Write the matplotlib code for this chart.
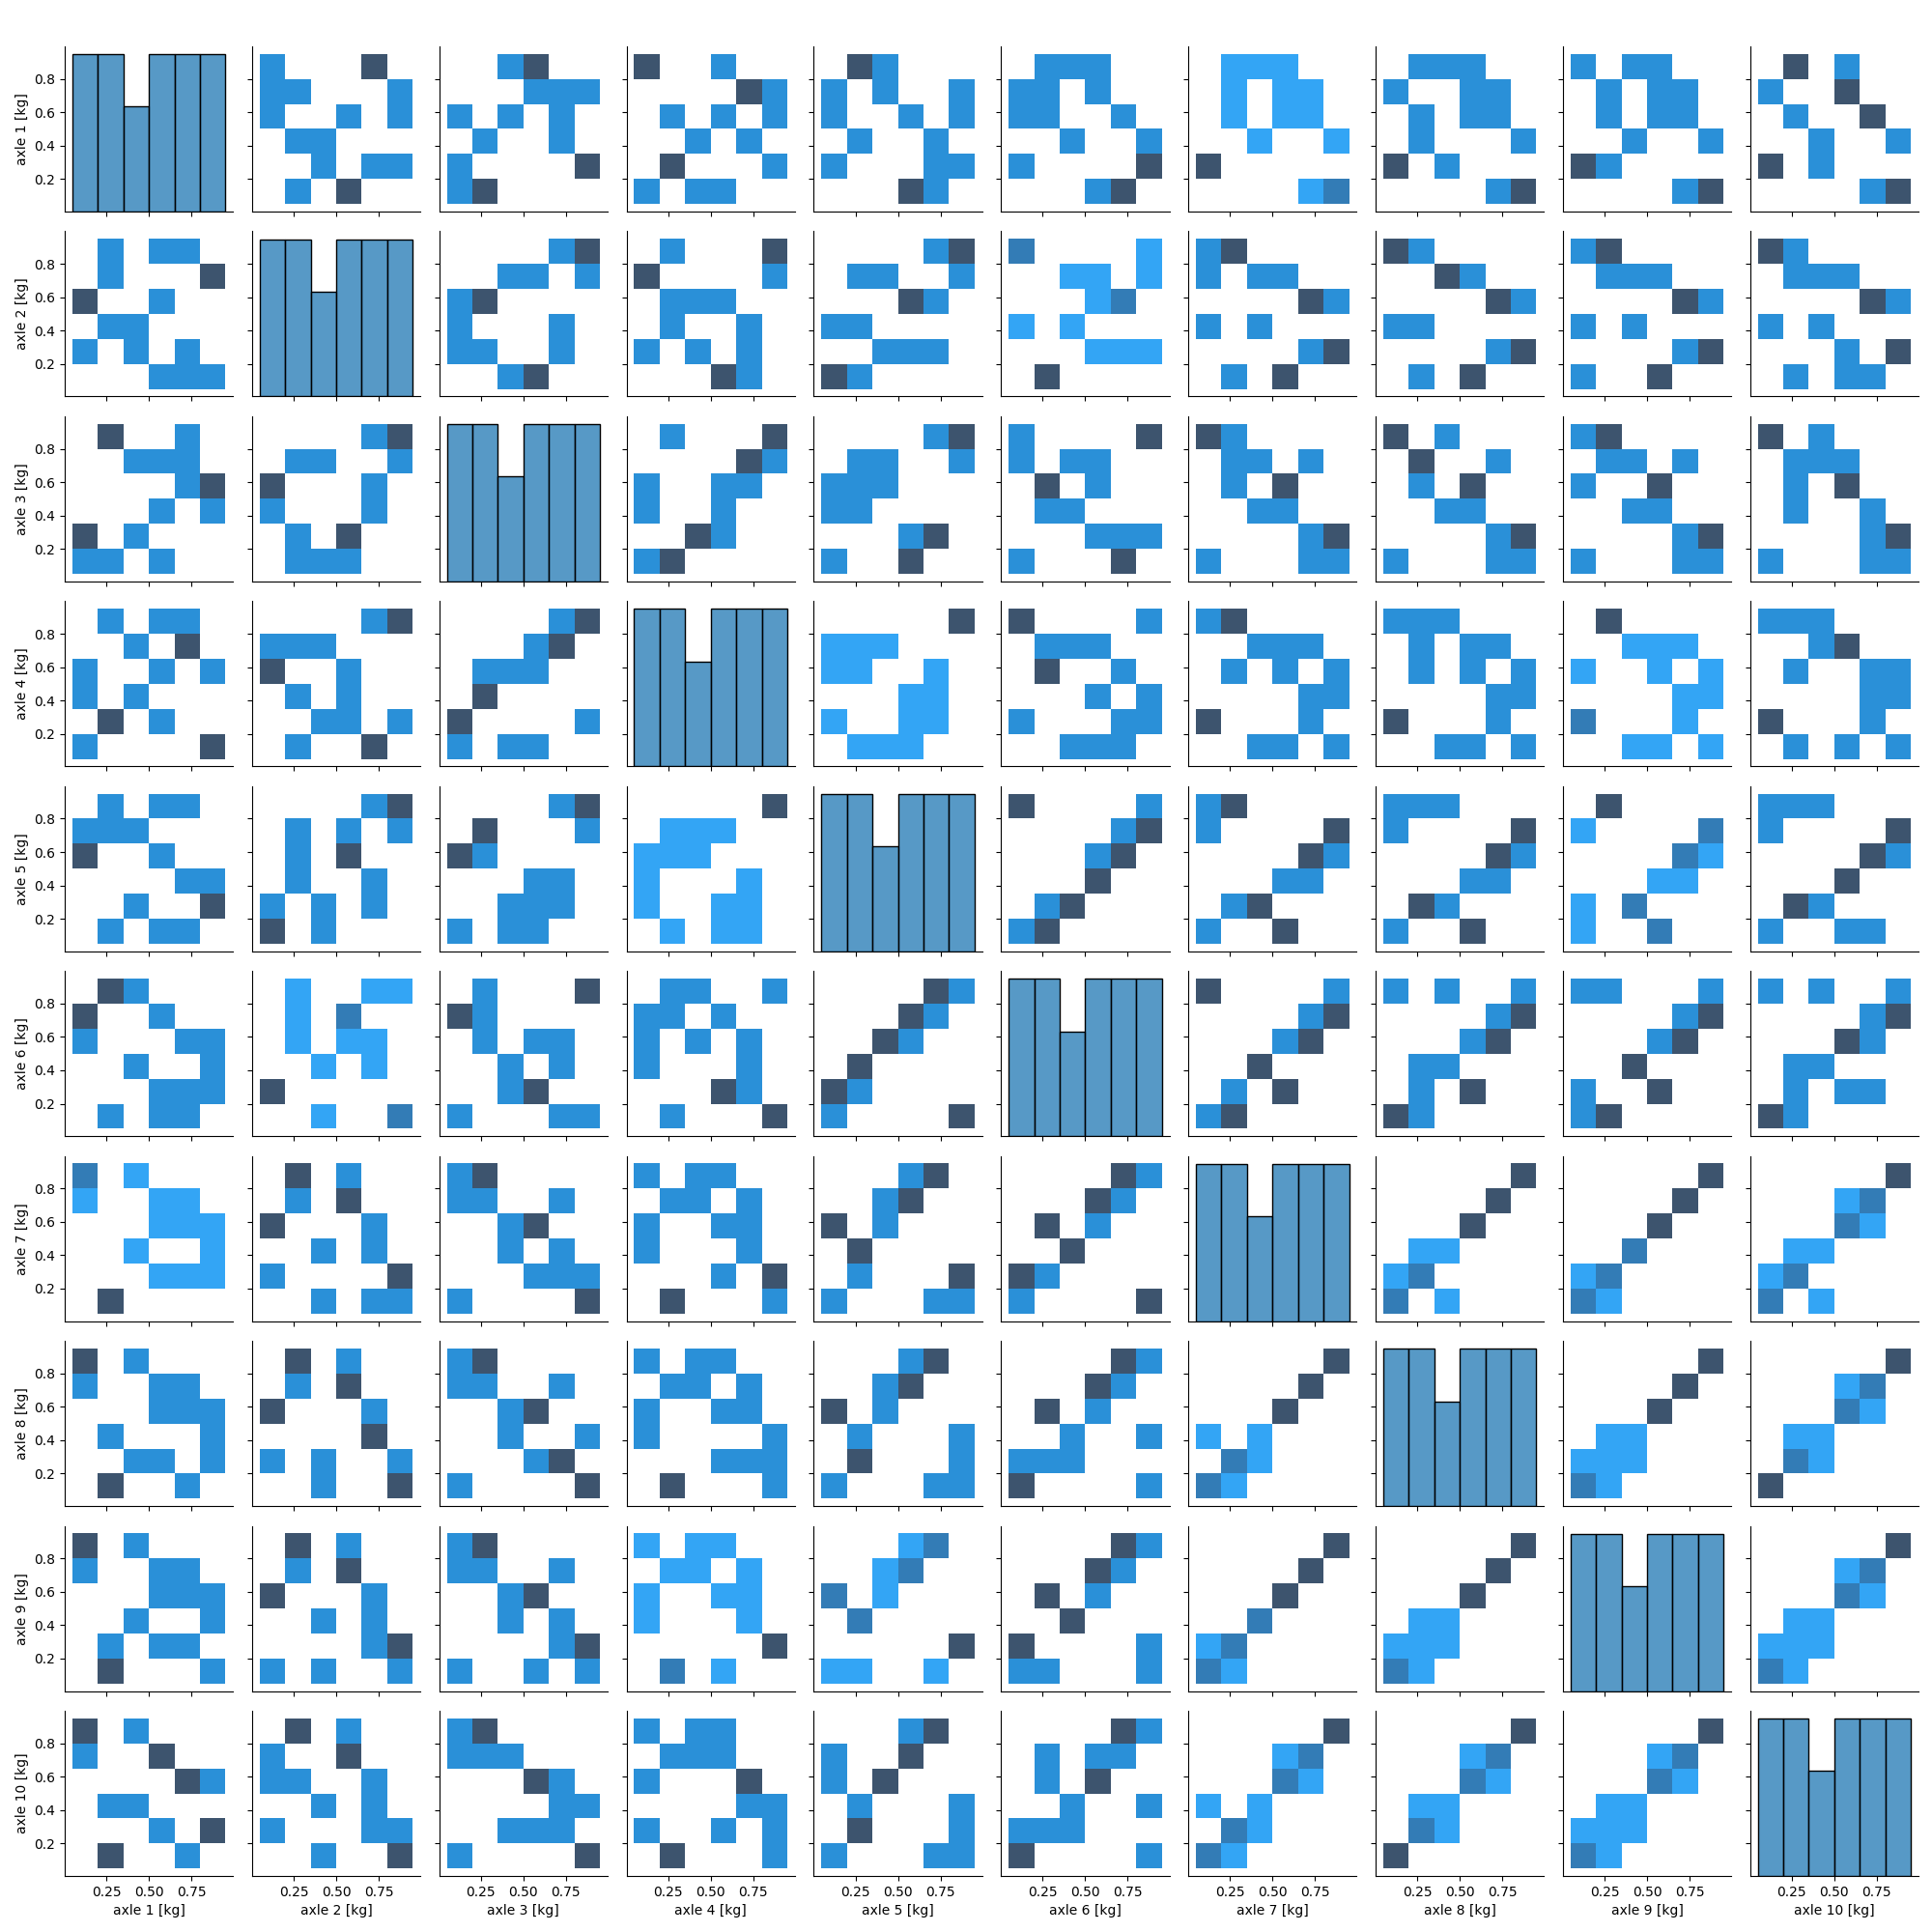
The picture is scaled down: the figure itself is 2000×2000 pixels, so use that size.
"""
Pairplot de cargas por eixo.

Gera a matriz de histogramas (diagonal) e histogramas 2D (fora da diagonal)
para as 10 colunas de carga por eixo, salvando em out.png.
"""

import pandas as pd
import matplotlib
matplotlib.use("Agg")
import matplotlib.pyplot as plt
import seaborn as sns

# Valores estimados a partir da figura (17 amostras por eixo)
axle_1 = [0.95, 0.90, 0.85, 0.68, 0.73, 0.77, 0.53, 0.58, 0.62, 0.40, 0.45, 0.23, 0.28, 0.32, 0.05, 0.12, 0.17]
axle_2 = [0.05, 0.68, 0.73, 0.12, 0.23, 0.95, 0.17, 0.53, 0.90, 0.28, 0.40, 0.45, 0.77, 0.85, 0.32, 0.58, 0.62]
axle_3 = [0.53, 0.40, 0.58, 0.62, 0.68, 0.95, 0.45, 0.05, 0.73, 0.23, 0.77, 0.12, 0.90, 0.85, 0.17, 0.28, 0.32]
axle_4 = [0.53, 0.05, 0.12, 0.68, 0.73, 0.95, 0.58, 0.23, 0.90, 0.40, 0.77, 0.28, 0.85, 0.32, 0.17, 0.45, 0.62]
axle_5 = [0.23, 0.28, 0.40, 0.05, 0.45, 0.95, 0.12, 0.53, 0.90, 0.68, 0.32, 0.17, 0.85, 0.73, 0.58, 0.62, 0.77]
axle_6 = [0.23, 0.40, 0.53, 0.28, 0.58, 0.05, 0.32, 0.68, 0.12, 0.95, 0.45, 0.17, 0.90, 0.85, 0.73, 0.62, 0.77]
axle_7 = [0.23, 0.40, 0.53, 0.58, 0.68, 0.28, 0.62, 0.73, 0.32, 0.95, 0.45, 0.05, 0.12, 0.17, 0.90, 0.77, 0.85]
axle_8 = [0.23, 0.40, 0.53, 0.58, 0.68, 0.05, 0.62, 0.73, 0.28, 0.95, 0.32, 0.12, 0.45, 0.17, 0.90, 0.77, 0.85]
axle_9 = [0.05, 0.40, 0.53, 0.58, 0.68, 0.23, 0.62, 0.73, 0.28, 0.95, 0.45, 0.12, 0.32, 0.17, 0.90, 0.77, 0.85]
axle_10 = [0.23, 0.28, 0.53, 0.58, 0.62, 0.05, 0.68, 0.73, 0.32, 0.95, 0.40, 0.12, 0.45, 0.17, 0.90, 0.77, 0.85]

colunas = [f"axle {i} [kg]" for i in range(1, 11)]


def montar_dataframe():
    """Junta as listas de cada eixo num DataFrame."""
    dados = [axle_1, axle_2, axle_3, axle_4, axle_5,
             axle_6, axle_7, axle_8, axle_9, axle_10]
    return pd.DataFrame(dict(zip(colunas, dados)))


def grafico_pairplot(df, nome_arquivo="out.png"):
    """Pairplot tipo hist com todas as colunas."""
    g = sns.pairplot(df, kind="hist", height=2)
    # margens medidas na figura de referência
    g.figure.subplots_adjust(left=0.0335, right=0.993, top=0.976, bottom=0.029,
                             wspace=0.112, hspace=0.12)
    # sem bbox_inches='tight' para manter 2000x2000
    g.figure.savefig(nome_arquivo, dpi=100)
    plt.close("all")


def main():
    df = montar_dataframe()
    grafico_pairplot(df)


if __name__ == "__main__":
    main()
